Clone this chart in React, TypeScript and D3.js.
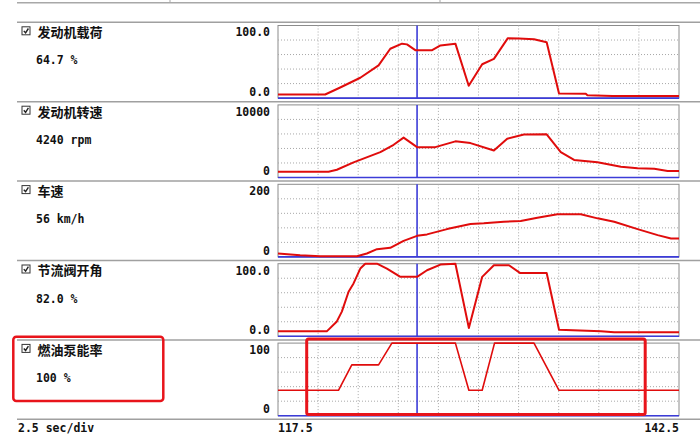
import React from "react";
import * as d3 from "d3";

const titles = ["发动机载荷", "发动机转速", "车速", "节流阀开角", "燃油泵能率"];
const readouts = ["64.7 %", "4240 rpm", "56 km/h", "82.0 %", "100 %"];
const maxLabels = ["100.0", "10000", "200", "100.0", "100"];
const minLabels = ["0.0", "0", "0", "0.0", "0"];
const maxValues = [100, 10000, 200, 100, 100];

const loadT = [117.5, 120.44, 121.38, 122.63, 123.77, 124.5, 125.23, 125.54, 126.06, 127.11, 127.63, 128.56, 129.39, 130.23, 130.96, 131.83, 132.52, 133.46, 134.25, 135.02, 136.69, 136.79, 138.36, 142.5];
const loadV = [5, 5, 14.6, 28, 45, 68, 75, 74, 66, 66, 72.6, 75, 17, 46.6, 54, 82.6, 82, 81, 77, 6.4, 6, 4, 3, 3];

const rpmT = [117.5, 120.65, 121.17, 122.21, 123.88, 124.71, 125.33, 126.17, 127.31, 128.56, 129.5, 130.96, 131.79, 132.83, 134.25, 135.13, 135.96, 137.42, 138.88, 139.92, 140.96, 141.79, 142.5];
const rpmV = [800, 800, 1070, 2090, 3490, 4510, 5490, 4180, 4180, 4980, 4740, 3720, 5350, 5910, 5950, 3490, 2420, 2090, 1490, 1260, 1200, 890, 890];

const speedT = [117.5, 118.88, 120.13, 122.42, 123.04, 123.67, 124.5, 125.33, 126.17, 126.79, 128.04, 129.5, 130.33, 131.58, 132.63, 133.67, 134.92, 136.38, 137.42, 138.46, 139.92, 141.17, 142, 142.5];
const speedV = [9.4, 4.6, 1.9, 1.9, 9.4, 21.3, 24.9, 44.3, 58, 62, 76.6, 90.5, 92.4, 96.8, 98.8, 107.9, 117.3, 117.3, 106.2, 96.8, 76.6, 60, 50.9, 50.9];

const throttleT = [117.5, 120.54, 121.17, 121.48, 121.9, 122.21, 122.63, 122.94, 123.67, 124.29, 125.13, 126.17, 126.79, 127.63, 128.56, 129.4, 130.23, 130.96, 131.9, 132.58, 134.25, 135.02, 137.63, 138.46, 142.5];
const throttleV = [6.8, 6.8, 20.5, 34, 61.4, 72.8, 93.3, 100, 100, 93.3, 81.9, 81.9, 91, 98.8, 100, 11.5, 81.9, 97.8, 97.8, 87.3, 87.3, 9.1, 6.8, 5.5, 5.5];

const pumpT = [117.5, 121.27, 122.1, 123.77, 124.6, 128.56, 129.4, 130.23, 131, 133.46, 135.02, 142.5];
const pumpV = [35, 35, 70, 70, 100, 100, 35, 35, 100, 100, 35, 35];

const seriesT = [loadT, rpmT, speedT, throttleT, pumpT];
const seriesV = [loadV, rpmV, speedV, throttleV, pumpV];

const tStart = 117.5;
const tEnd = 142.5;
const cursorT = 126.17;
const timeTicks = [117.5, 120, 122.5, 125, 127.5, 130, 132.5, 135, 137.5, 140, 142.5];
const scaleLabel = "2.5 sec/div";

const W = 700;
const H = 436;
const boxL = 278;
const boxR = 679;
const sep0 = 22.3;
const pitch = 79.4;

const RED = "#e00c0c";
const BLUE = "#3c3cd8";
const GRID = "#a8a8a8";
const MONO = "'DejaVu Sans Mono', 'Liberation Mono', monospace";
const CJK = "'Noto Sans CJK SC', sans-serif";

export default function App() {
  const x = d3.scaleLinear().domain([tStart, tEnd]).range([boxL, boxR]);
  const sepYs = d3.range(6).map((i) => sep0 + pitch * i);

  return (
    <svg
      width={W}
      height={H}
      style={{ position: "absolute", left: 0, top: 0, background: "#fff" }}
    >
      <rect x={0} y={0} width={W} height={H} fill="#fff" />
      <line x1={17} x2={W} y1={2.7} y2={2.7} stroke="#a8a8a8" strokeWidth={1.5} />
      <line x1={170} x2={170} y1={0} y2={3} stroke="#a8a8a8" />
      <line x1={440} x2={440} y1={0} y2={3} stroke="#a8a8a8" />
      {sepYs.map((sy, i) => (
        <line key={"s" + i} x1={17} x2={W} y1={sy} y2={sy} stroke="#a0a0a0" strokeWidth={1.5} />
      ))}
      {titles.map((title, i) => {
        const sy = sepYs[i];
        const top = sy + 3.2;
        const bottom = sy + 75.8;
        const y = d3.scaleLinear().domain([0, maxValues[i]]).range([bottom, top]);
        const data = seriesT[i].map((t, k) => [t, seriesV[i][k]] as [number, number]);
        const line = d3
          .line<[number, number]>()
          .x((d) => x(d[0]))
          .y((d) => y(d[1]));
        const hGrid = d3.range(1, 5).map((k) => top + ((bottom - top) * k) / 5);
        const vGrid = timeTicks.slice(1, -1);
        return (
          <g key={"p" + i}>
            <rect x={22} y={sy + 4.5} width={8} height={8} fill="#fff" stroke="#333" strokeWidth={1} />
            <path
              d={`M${23.8},${sy + 8.6} L${25.6},${sy + 10.6} L${28.4},${sy + 6.2}`}
              fill="none"
              stroke="#222"
              strokeWidth={1.4}
            />
            <text x={37.5} y={sy + 14.8} fontFamily={CJK} fontWeight="bold" fontSize={13} fill="#111">
              {title}
            </text>
            <text x={36} y={sy + 42} fontFamily={MONO} fontWeight="bold" fontSize={11.5} fill="#111">
              {readouts[i]}
            </text>
            <text x={270} y={sy + 14} textAnchor="end" fontFamily={MONO} fontWeight="bold" fontSize={11.5} fill="#111">
              {maxLabels[i]}
            </text>
            <text x={270} y={sy + 73.5} textAnchor="end" fontFamily={MONO} fontWeight="bold" fontSize={11.5} fill="#111">
              {minLabels[i]}
            </text>
            <rect x={boxL} y={top} width={boxR - boxL} height={bottom - top} fill="#fff" stroke="#8c8c8c" strokeWidth={1} />
            {hGrid.map((gy, k) => (
              <line key={"h" + k} x1={boxL} x2={boxR} y1={gy} y2={gy} stroke={GRID} strokeWidth={1} strokeDasharray="1,2" />
            ))}
            {vGrid.map((t, k) => (
              <line key={"v" + k} x1={x(t)} x2={x(t)} y1={top} y2={bottom} stroke={GRID} strokeWidth={1} strokeDasharray="1,2" />
            ))}
            <line x1={boxL} x2={boxR} y1={bottom} y2={bottom} stroke={BLUE} strokeWidth={1.6} />
            <line x1={x(cursorT)} x2={x(cursorT)} y1={top} y2={bottom} stroke={BLUE} strokeWidth={1.6} />
            <path d={line(data) || ""} fill="none" stroke={RED} strokeWidth={i === 4 ? 1.6 : 2} strokeLinejoin="round" />
          </g>
        );
      })}
      <text x={18} y={432} fontFamily={MONO} fontWeight="bold" fontSize={11.5} fill="#111">
        {scaleLabel}
      </text>
      <text x={x(tStart)} y={432} fontFamily={MONO} fontWeight="bold" fontSize={11.5} fill="#111">
        {String(tStart)}
      </text>
      <text x={x(tEnd)} y={432} textAnchor="end" fontFamily={MONO} fontWeight="bold" fontSize={11.5} fill="#111">
        {String(tEnd)}
      </text>
      <rect x={13.3} y={336.7} width={150} height={64.3} rx={3} fill="none" stroke="#e8141b" strokeWidth={2.5} />
      <rect x={306.7} y={339} width={338.5} height={75.5} rx={2} fill="none" stroke="#e8141b" strokeWidth={3} />
    </svg>
  );
}
